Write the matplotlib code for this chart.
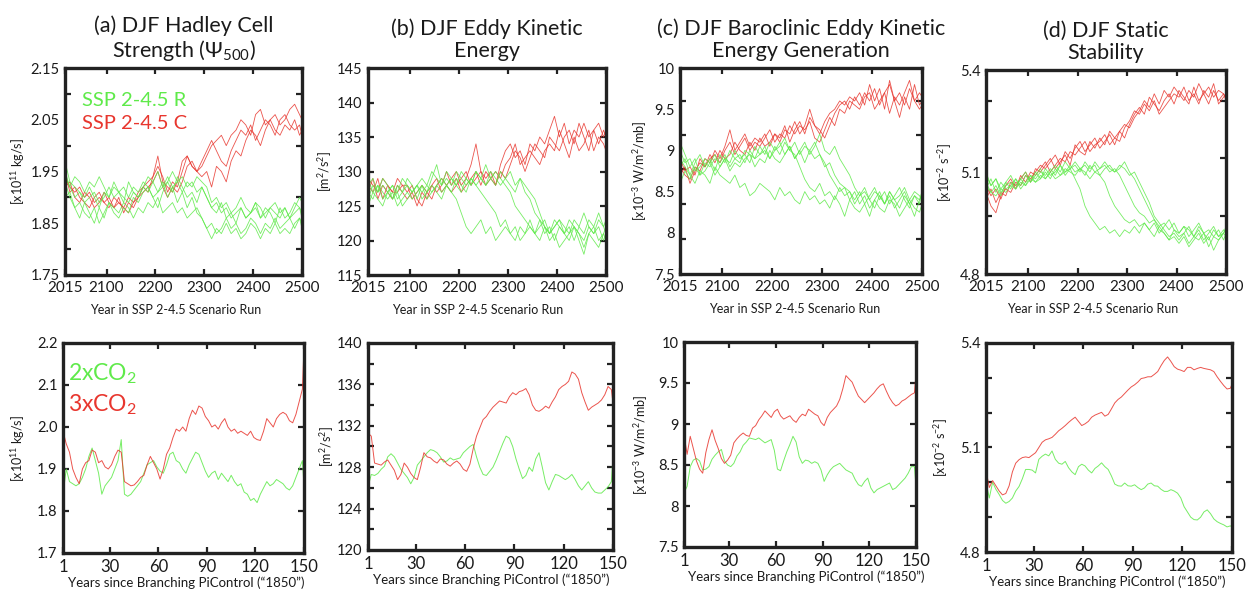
import numpy as np
import matplotlib
matplotlib.use("Agg")
import matplotlib.pyplot as plt

# ---------------------------------------------------------------- data
YEARS_TOP = list(range(2015, 2500, 10)) + [2500]
YEARS_BOTTOM = list(range(1, 150, 2)) + [150]

# (a) Hadley cell strength, SSP2-4.5 C (red) and R (green) runs
HADLEY_C_RUNS = [
    [1.94, 1.92, 1.91, 1.92, 1.90, 1.91, 1.89, 1.90, 1.89, 1.90,
     1.88, 1.89, 1.88, 1.90, 1.89, 1.91, 1.92, 1.93, 1.94, 1.98,
     1.93, 1.92, 1.91, 1.93, 1.97, 1.98, 1.96, 1.95, 1.96, 1.98,
     2.00, 2.01, 2.02, 2.00, 2.02, 2.03, 2.05, 2.04, 2.02, 2.06,
     2.07, 2.04, 2.05, 2.06, 2.04, 2.05, 2.07, 2.08, 2.06, 2.05],
    [1.92, 1.93, 1.90, 1.89, 1.91, 1.90, 1.88, 1.89, 1.91, 1.89,
     1.88, 1.90, 1.87, 1.89, 1.88, 1.90, 1.91, 1.92, 1.93, 1.95,
     1.92, 1.90, 1.92, 1.91, 1.93, 1.96, 1.97, 1.95, 1.94, 1.95,
     1.92, 1.96, 1.95, 1.93, 1.97, 1.99, 1.98, 2.01, 2.03, 2.02,
     2.00, 2.03, 2.05, 2.03, 2.02, 2.04, 2.03, 2.05, 2.02, 2.03],
    [1.95, 1.91, 1.92, 1.90, 1.89, 1.88, 1.90, 1.91, 1.89, 1.88,
     1.90, 1.89, 1.88, 1.87, 1.89, 1.90, 1.92, 1.91, 1.94, 1.96,
     1.94, 1.91, 1.93, 1.92, 1.95, 1.98, 1.96, 1.95, 1.97, 1.99,
     2.01, 1.99, 1.97, 1.96, 1.99, 2.01, 2.03, 2.02, 2.04, 2.01,
     2.03, 2.05, 2.04, 2.02, 2.05, 2.06, 2.04, 2.03, 2.04, 2.02],
]
HADLEY_R_RUNS = [
    [1.97, 1.93, 1.92, 1.91, 1.90, 1.92, 1.90, 1.88, 1.91, 1.90,
     1.92, 1.91, 1.89, 1.93, 1.91, 1.90, 1.92, 1.94, 1.93, 1.95,
     1.92, 1.93, 1.91, 1.94, 1.92, 1.90, 1.91, 1.89, 1.92, 1.90,
     1.88, 1.87, 1.89, 1.86, 1.87, 1.85, 1.88, 1.86, 1.87, 1.89,
     1.86, 1.88, 1.87, 1.85, 1.88, 1.86, 1.87, 1.89, 1.88, 1.87],
    [1.93, 1.90, 1.88, 1.86, 1.89, 1.87, 1.85, 1.88, 1.86, 1.89,
     1.87, 1.86, 1.88, 1.87, 1.90, 1.89, 1.91, 1.92, 1.90, 1.91,
     1.93, 1.90, 1.92, 1.89, 1.91, 1.88, 1.90, 1.87, 1.86, 1.84,
     1.85, 1.83, 1.84, 1.86, 1.84, 1.85, 1.83, 1.84, 1.86, 1.85,
     1.83, 1.85, 1.84, 1.86, 1.84, 1.85, 1.86, 1.84, 1.86, 1.85],
    [1.95, 1.92, 1.94, 1.93, 1.91, 1.93, 1.92, 1.94, 1.92, 1.90,
     1.93, 1.91, 1.92, 1.90, 1.92, 1.91, 1.93, 1.92, 1.90, 1.88,
     1.91, 1.93, 1.95, 1.93, 1.94, 1.92, 1.93, 1.91, 1.92, 1.90,
     1.88, 1.89, 1.87, 1.88, 1.86, 1.87, 1.88, 1.86, 1.87, 1.88,
     1.86, 1.87, 1.88, 1.87, 1.86, 1.88, 1.86, 1.87, 1.88, 1.86],
    [1.90, 1.91, 1.88, 1.89, 1.87, 1.86, 1.88, 1.85, 1.87, 1.89,
     1.88, 1.87, 1.89, 1.88, 1.86, 1.88, 1.87, 1.89, 1.88, 1.90,
     1.87, 1.88, 1.89, 1.87, 1.88, 1.86, 1.87, 1.88, 1.86, 1.84,
     1.82, 1.84, 1.83, 1.85, 1.83, 1.84, 1.82, 1.83, 1.85, 1.84,
     1.82, 1.84, 1.83, 1.85, 1.83, 1.84, 1.83, 1.85, 1.86, 1.84],
    [1.94, 1.92, 1.90, 1.91, 1.89, 1.90, 1.91, 1.89, 1.90, 1.92,
     1.90, 1.91, 1.90, 1.89, 1.91, 1.90, 1.92, 1.91, 1.93, 1.91,
     1.92, 1.94, 1.92, 1.93, 1.91, 1.93, 1.92, 1.94, 1.93, 1.92,
     1.89, 1.90, 1.88, 1.89, 1.87, 1.88, 1.90, 1.88, 1.87, 1.89,
     1.88, 1.86, 1.88, 1.89, 1.87, 1.88, 1.86, 1.88, 1.90, 1.89],
]

# (b) eddy kinetic energy
EKE_C_RUNS = [
    [128, 127, 129, 126, 128, 127, 129, 128, 127, 128,
     126, 125, 127, 128, 129, 127, 128, 129, 130, 128,
     129, 131, 134, 130, 129, 130, 128, 131, 133, 134,
     132, 133, 131, 134, 133, 135, 134, 136, 138, 135,
     137, 134, 136, 135, 137, 135, 136, 137, 135, 136],
    [127, 129, 126, 128, 127, 126, 128, 127, 126, 127,
     125, 127, 126, 128, 127, 128, 130, 128, 129, 127,
     128, 129, 130, 128, 130, 129, 130, 129, 131, 132,
     134, 131, 132, 133, 132, 131, 133, 134, 133, 136,
     134, 132, 135, 133, 134, 136, 133, 135, 134, 133],
    [129, 128, 127, 129, 128, 127, 127, 128, 128, 126,
     127, 128, 127, 126, 128, 129, 128, 127, 128, 129,
     130, 128, 129, 130, 128, 129, 128, 130, 129, 131,
     133, 132, 130, 132, 134, 133, 132, 135, 134, 133,
     135, 136, 134, 137, 135, 133, 136, 134, 136, 135],
]
EKE_R_RUNS = [
    [127, 126, 128, 127, 126, 127, 125, 126, 127, 126,
     127, 128, 126, 127, 128, 127, 128, 127, 126, 124,
     122, 121, 122, 123, 121, 122, 120, 121, 122, 121,
     120, 122, 121, 123, 121, 120, 122, 121, 123, 122,
     121, 120, 122, 121, 119, 121, 122, 120, 121, 122],
    [128, 129, 127, 128, 127, 128, 127, 129, 128, 127,
     128, 129, 128, 130, 129, 128, 129, 128, 130, 129,
     128, 129, 128, 127, 126, 125, 124, 122, 123, 121,
     122, 120, 121, 122, 121, 123, 121, 122, 120, 122,
     121, 123, 122, 121, 120, 122, 121, 122, 120, 121],
    [126, 128, 127, 129, 128, 126, 128, 127, 129, 128,
     126, 128, 127, 129, 131, 128, 130, 129, 128, 130,
     129, 128, 130, 129, 131, 129, 130, 129, 128, 127,
     125, 124, 123, 122, 121, 122, 123, 121, 122, 123,
     122, 121, 123, 122, 124, 122, 121, 123, 122, 121],
    [129, 127, 128, 126, 127, 128, 126, 127, 128, 127,
     128, 127, 128, 127, 128, 129, 128, 129, 128, 127,
     129, 128, 130, 129, 128, 129, 128, 130, 129, 130,
     128, 129, 127, 126, 124, 123, 122, 121, 122, 123,
     121, 122, 120, 122, 121, 123, 122, 124, 122, 123],
    [125, 127, 126, 125, 127, 126, 127, 125, 126, 127,
     128, 126, 127, 128, 127, 126, 128, 127, 129, 128,
     127, 129, 128, 129, 128, 130, 129, 128, 129, 128,
     127, 129, 128, 127, 126, 124, 122, 120, 121, 119,
     120, 121, 122, 120, 118, 121, 120, 119, 121, 120],
]

# (c) baroclinic eddy kinetic energy generation
BAROC_C_RUNS = [
    [8.80, 8.70, 8.65, 8.80, 8.75, 8.90, 8.85, 9.00, 8.90, 9.05,
     9.25, 9.00, 9.10, 9.20, 9.05, 9.15, 9.10, 9.20, 9.05, 9.20,
     9.15, 9.30, 9.10, 9.25, 9.35, 9.20, 9.40, 9.30, 9.20, 9.35,
     9.45, 9.50, 9.60, 9.55, 9.65, 9.60, 9.70, 9.55, 9.80, 9.60,
     9.75, 9.50, 9.85, 9.60, 9.70, 9.55, 9.75, 9.60, 9.70, 9.65],
    [8.90, 8.75, 8.80, 8.70, 8.90, 8.80, 8.95, 8.85, 9.00, 8.90,
     8.95, 9.10, 9.00, 8.95, 9.10, 9.00, 9.15, 9.05, 9.10, 9.20,
     9.10, 9.25, 9.20, 9.35, 9.20, 9.30, 9.50, 9.30, 9.25, 9.15,
     9.30, 9.45, 9.55, 9.60, 9.50, 9.65, 9.55, 9.70, 9.60, 9.75,
     9.55, 9.70, 9.80, 9.60, 9.40, 9.65, 9.50, 9.80, 9.55, 9.60],
    [8.70, 8.80, 8.60, 8.75, 8.85, 8.80, 8.90, 8.95, 8.85, 9.00,
     9.10, 8.95, 9.05, 9.15, 9.00, 9.10, 9.05, 9.15, 9.25, 9.10,
     9.20, 9.15, 9.30, 9.20, 9.30, 9.25, 9.35, 9.15, 9.10, 9.25,
     9.40, 9.30, 9.50, 9.45, 9.60, 9.55, 9.50, 9.65, 9.70, 9.50,
     9.60, 9.70, 9.45, 9.65, 9.55, 9.70, 9.85, 9.60, 9.50, 9.55],
]
BAROC_R_RUNS = [
    [8.90, 8.80, 8.70, 8.60, 8.75, 8.70, 8.60, 8.80, 8.70, 8.65,
     8.60, 8.70, 8.55, 8.60, 8.45, 8.50, 8.60, 8.55, 8.50, 8.40,
     8.55, 8.45, 8.50, 8.40, 8.35, 8.50, 8.40, 8.45, 8.35, 8.40,
     8.30, 8.45, 8.35, 8.20, 8.40, 8.30, 8.25, 8.35, 8.20, 8.40,
     8.30, 8.25, 8.40, 8.35, 8.20, 8.30, 8.40, 8.30, 8.25, 8.35],
    [9.00, 8.85, 8.90, 8.75, 8.80, 8.90, 8.85, 8.95, 8.80, 8.90,
     8.85, 9.00, 8.90, 8.95, 8.85, 9.05, 8.95, 9.00, 8.90, 9.05,
     8.95, 9.10, 9.00, 8.95, 8.80, 8.65, 8.55, 8.50, 8.60, 8.45,
     8.50, 8.40, 8.55, 8.45, 8.50, 8.35, 8.45, 8.55, 8.40, 8.50,
     8.45, 8.35, 8.50, 8.40, 8.45, 8.55, 8.40, 8.50, 8.45, 8.40],
    [8.80, 8.90, 8.70, 8.85, 8.95, 8.80, 8.90, 8.75, 8.95, 8.85,
     9.00, 8.90, 8.85, 9.00, 8.95, 8.90, 9.05, 8.95, 9.10, 9.00,
     9.05, 9.15, 9.00, 9.10, 8.95, 9.05, 9.00, 9.10, 8.95, 8.85,
     8.70, 8.60, 8.50, 8.55, 8.40, 8.50, 8.35, 8.45, 8.30, 8.40,
     8.50, 8.35, 8.45, 8.30, 8.40, 8.50, 8.35, 8.45, 8.40, 8.50],
    [9.10, 8.95, 8.80, 8.90, 8.70, 8.85, 8.80, 8.90, 8.85, 8.95,
     8.80, 8.90, 8.95, 8.85, 9.00, 8.90, 8.95, 9.05, 8.90, 9.00,
     9.10, 8.95, 9.05, 8.90, 9.00, 9.10, 8.95, 9.05, 9.20, 9.00,
     8.95, 9.05, 8.90, 8.80, 8.70, 8.55, 8.45, 8.50, 8.40, 8.30,
     8.45, 8.35, 8.50, 8.40, 8.30, 8.45, 8.35, 8.20, 8.40, 8.45],
    [8.60, 8.75, 8.65, 8.80, 8.70, 8.75, 8.85, 8.70, 8.80, 8.90,
     8.75, 8.85, 8.80, 8.90, 8.95, 8.80, 8.90, 8.85, 9.00, 8.90,
     8.85, 8.95, 9.05, 8.90, 9.00, 8.85, 9.00, 8.90, 8.95, 8.80,
     8.85, 8.70, 8.60, 8.55, 8.50, 8.40, 8.50, 8.35, 8.45, 8.55,
     8.40, 8.50, 8.35, 8.45, 8.55, 8.40, 8.30, 8.45, 8.35, 8.50],
]

# (d) static stability
STAB_C_RUNS = [
    [5.04, 5.00, 4.98, 5.03, 5.05, 5.04, 5.07, 5.06, 5.09, 5.08,
     5.10, 5.12, 5.11, 5.13, 5.15, 5.12, 5.16, 5.14, 5.17, 5.19,
     5.16, 5.18, 5.20, 5.17, 5.19, 5.21, 5.18, 5.22, 5.24, 5.23,
     5.26, 5.28, 5.31, 5.29, 5.33, 5.30, 5.34, 5.32, 5.35, 5.33,
     5.31, 5.34, 5.32, 5.36, 5.33, 5.35, 5.32, 5.34, 5.33, 5.32],
    [5.06, 5.03, 5.05, 5.02, 5.06, 5.08, 5.05, 5.09, 5.07, 5.10,
     5.09, 5.11, 5.13, 5.10, 5.12, 5.14, 5.13, 5.16, 5.15, 5.17,
     5.19, 5.16, 5.18, 5.19, 5.21, 5.18, 5.20, 5.22, 5.20, 5.24,
     5.27, 5.29, 5.27, 5.32, 5.30, 5.28, 5.31, 5.33, 5.30, 5.34,
     5.32, 5.30, 5.35, 5.31, 5.33, 5.30, 5.34, 5.31, 5.33, 5.31],
    [5.02, 5.05, 5.01, 5.04, 5.03, 5.07, 5.06, 5.08, 5.10, 5.07,
     5.11, 5.10, 5.12, 5.14, 5.11, 5.13, 5.15, 5.12, 5.18, 5.16,
     5.15, 5.19, 5.17, 5.20, 5.18, 5.22, 5.20, 5.19, 5.23, 5.25,
     5.28, 5.27, 5.30, 5.28, 5.31, 5.27, 5.29, 5.31, 5.33, 5.32,
     5.35, 5.31, 5.33, 5.30, 5.34, 5.32, 5.36, 5.30, 5.32, 5.33],
]
STAB_R_RUNS = [
    [5.07, 5.04, 5.06, 5.03, 5.07, 5.05, 5.08, 5.06, 5.09, 5.07,
     5.10, 5.08, 5.11, 5.09, 5.10, 5.12, 5.09, 5.11, 5.08, 5.05,
     5.00, 4.97, 4.95, 4.93, 4.94, 4.92, 4.93, 4.91, 4.93, 4.92,
     4.94, 4.92, 4.95, 4.93, 4.91, 4.94, 4.92, 4.90, 4.93, 4.91,
     4.92, 4.94, 4.91, 4.93, 4.90, 4.92, 4.94, 4.91, 4.93, 4.92],
    [5.09, 5.06, 5.08, 5.05, 5.07, 5.09, 5.06, 5.08, 5.10, 5.07,
     5.09, 5.11, 5.08, 5.10, 5.12, 5.10, 5.13, 5.11, 5.12, 5.10,
     5.13, 5.11, 5.12, 5.09, 5.07, 5.03, 5.00, 4.98, 4.96, 4.95,
     4.96, 4.94, 4.95, 4.93, 4.95, 4.92, 4.94, 4.96, 4.93, 4.92,
     4.94, 4.91, 4.93, 4.95, 4.92, 4.90, 4.93, 4.91, 4.92, 4.94],
    [5.05, 5.08, 5.04, 5.07, 5.05, 5.06, 5.08, 5.05, 5.07, 5.09,
     5.08, 5.10, 5.09, 5.11, 5.09, 5.12, 5.10, 5.11, 5.13, 5.11,
     5.12, 5.10, 5.13, 5.11, 5.12, 5.10, 5.11, 5.09, 5.06, 5.03,
     5.00, 4.98, 4.97, 4.95, 4.96, 4.94, 4.95, 4.93, 4.95, 4.92,
     4.94, 4.93, 4.91, 4.94, 4.92, 4.93, 4.91, 4.93, 4.90, 4.92],
    [5.10, 5.06, 5.08, 5.04, 5.06, 5.07, 5.05, 5.08, 5.06, 5.09,
     5.07, 5.08, 5.10, 5.08, 5.11, 5.09, 5.10, 5.12, 5.10, 5.11,
     5.09, 5.12, 5.10, 5.11, 5.13, 5.11, 5.10, 5.12, 5.11, 5.09,
     5.10, 5.07, 5.04, 5.01, 4.97, 4.95, 4.93, 4.91, 4.92, 4.90,
     4.92, 4.89, 4.91, 4.90, 4.92, 4.88, 4.91, 4.90, 4.92, 4.91],
    [5.06, 5.04, 5.03, 5.05, 5.04, 5.06, 5.05, 5.07, 5.06, 5.08,
     5.07, 5.09, 5.08, 5.10, 5.08, 5.09, 5.11, 5.10, 5.09, 5.11,
     5.10, 5.08, 5.10, 5.09, 5.11, 5.12, 5.10, 5.11, 5.13, 5.10,
     5.08, 5.05, 5.02, 4.99, 4.96, 4.93, 4.92, 4.90, 4.91, 4.89,
     4.91, 4.88, 4.90, 4.92, 4.89, 4.91, 4.87, 4.90, 4.92, 4.93],
]

# bottom row: abrupt 2xCO2 (green) and 3xCO2 (red) runs
HADLEY_2X = [1.84, 1.90, 1.87, 1.865, 1.86, 1.865, 1.88, 1.90, 1.93, 1.95,
             1.92, 1.89, 1.84, 1.86, 1.87, 1.88, 1.90, 1.92, 1.97, 1.84,
             1.835, 1.84, 1.85, 1.86, 1.87, 1.89, 1.91, 1.915, 1.92, 1.905,
             1.895, 1.89, 1.91, 1.935, 1.94, 1.92, 1.915, 1.90, 1.89, 1.91,
             1.925, 1.94, 1.935, 1.915, 1.895, 1.88, 1.89, 1.895, 1.875, 1.89,
             1.88, 1.87, 1.885, 1.87, 1.86, 1.865, 1.845, 1.84, 1.825, 1.83,
             1.82, 1.84, 1.855, 1.87, 1.86, 1.865, 1.875, 1.87, 1.865, 1.855,
             1.85, 1.86, 1.88, 1.90, 1.92, 1.86]
HADLEY_3X = [1.99, 1.96, 1.94, 1.90, 1.88, 1.865, 1.90, 1.915, 1.92, 1.945,
             1.94, 1.915, 1.92, 1.905, 1.90, 1.91, 1.93, 1.945, 1.94, 1.87,
             1.865, 1.86, 1.862, 1.87, 1.88, 1.885, 1.91, 1.93, 1.915, 1.90,
             1.876, 1.90, 1.935, 1.95, 1.975, 1.995, 1.99, 2.00, 1.99, 2.02,
             2.04, 2.03, 2.05, 2.045, 2.025, 2.015, 2.00, 2.005, 1.995, 2.01,
             2.02, 2.00, 1.99, 1.995, 1.985, 1.99, 1.985, 1.98, 1.99, 1.975,
             1.97, 1.968, 1.99, 2.02, 2.01, 2.00, 2.02, 2.03, 2.035, 2.03,
             2.015, 2.01, 2.03, 2.06, 2.09, 2.19]

EKE_2X = [126.1, 127.3, 127.2, 127.4, 127.8, 128.1, 129.0, 129.3, 129.0, 128.4,
          127.8, 127.4, 127.0, 126.4, 127.0, 128.2, 128.6, 129.0, 129.4, 129.7,
          129.6, 129.4, 129.0, 128.5, 128.6, 128.9, 128.7, 128.8, 128.9, 129.4,
          129.7, 130.0, 130.2, 129.0, 128.0, 127.3, 127.2, 127.6, 128.0, 128.7,
          129.5, 130.3, 131.0, 130.8, 130.0, 128.8, 127.8, 126.9, 127.2, 128.0,
          127.6, 128.8, 129.4, 128.0, 126.5, 125.8, 126.6, 127.3, 127.2, 127.0,
          126.8, 127.0, 127.3, 126.8, 126.2, 125.8, 126.2, 126.6, 126.0, 125.6,
          125.5, 125.5, 125.8, 126.1, 126.6, 129.0]
EKE_3X = [131.3, 131.0, 128.4, 128.3, 128.2, 128.5, 128.7, 128.2, 127.7, 126.8,
          127.3, 128.4, 128.0, 127.4, 127.0, 126.8, 128.0, 129.4, 129.0, 128.9,
          128.6, 128.4, 128.8, 128.7, 128.3, 128.1, 128.4, 128.6, 128.3, 127.8,
          127.6, 128.3, 129.8, 131.0, 131.8, 132.6, 132.9, 133.4, 133.8, 134.1,
          134.4, 134.3, 134.2, 134.8, 135.2, 135.0, 135.3, 135.4, 135.6, 135.0,
          134.0, 133.5, 133.4, 133.6, 133.9, 133.7, 134.3, 134.8, 135.5, 135.8,
          136.0, 136.3, 137.2, 137.0, 136.5, 135.2, 134.3, 133.5, 133.8, 134.0,
          134.2, 134.5, 135.0, 135.8, 135.5, 134.2]

BAROC_2X = [8.16, 8.24, 8.48, 8.56, 8.58, 8.55, 8.44, 8.45, 8.48, 8.57,
            8.62, 8.66, 8.69, 8.55, 8.50, 8.48, 8.52, 8.61, 8.66, 8.74,
            8.78, 8.83, 8.82, 8.81, 8.83, 8.80, 8.77, 8.79, 8.81, 8.68,
            8.45, 8.43, 8.55, 8.66, 8.75, 8.85, 8.78, 8.60, 8.52, 8.56,
            8.55, 8.52, 8.54, 8.52, 8.44, 8.30, 8.38, 8.44, 8.48, 8.50,
            8.52, 8.48, 8.44, 8.42, 8.40, 8.32, 8.26, 8.24, 8.30, 8.34,
            8.22, 8.16, 8.20, 8.22, 8.24, 8.26, 8.28, 8.20, 8.22, 8.26,
            8.30, 8.34, 8.40, 8.48, 8.48, 8.24]
BAROC_3X = [8.87, 8.63, 8.85, 8.70, 8.55, 8.45, 8.40, 8.65, 8.81, 8.93,
            8.80, 8.70, 8.58, 8.52, 8.56, 8.62, 8.77, 8.82, 8.86, 8.89,
            8.86, 8.85, 8.95, 8.98, 9.05, 9.10, 9.16, 9.12, 9.08, 9.15,
            9.18, 9.10, 9.06, 9.08, 9.10, 9.05, 9.02, 9.08, 9.12, 9.10,
            9.18, 9.15, 9.12, 9.10, 9.02, 8.98, 9.08, 9.14, 9.18, 9.22,
            9.30, 9.43, 9.59, 9.55, 9.51, 9.42, 9.34, 9.30, 9.26, 9.30,
            9.34, 9.38, 9.43, 9.47, 9.49, 9.40, 9.32, 9.26, 9.22, 9.24,
            9.28, 9.30, 9.33, 9.36, 9.38, 9.61]

STAB_2X = [5.00, 4.955, 5.00, 4.98, 4.965, 4.948, 4.94, 4.945, 4.955, 4.975,
           4.988, 5.01, 5.037, 5.037, 5.035, 5.027, 5.066, 5.075, 5.081, 5.076,
           5.09, 5.066, 5.055, 5.052, 5.06, 5.042, 5.03, 5.022, 5.045, 5.052,
           5.047, 5.035, 5.027, 5.04, 5.047, 5.056, 5.045, 5.037, 5.018, 4.995,
           4.99, 4.989, 4.998, 4.99, 4.989, 4.993, 4.985, 4.979, 4.984, 4.995,
           4.998, 4.99, 4.989, 4.98, 4.974, 4.974, 4.979, 4.975, 4.969, 4.955,
           4.93, 4.915, 4.90, 4.893, 4.892, 4.90, 4.915, 4.921, 4.91, 4.895,
           4.887, 4.882, 4.878, 4.872, 4.875, 4.872]
STAB_3X = [5.035, 4.985, 5.005, 4.99, 4.975, 4.964, 4.968, 4.99, 5.03, 5.055,
           5.065, 5.071, 5.073, 5.071, 5.078, 5.085, 5.10, 5.115, 5.122, 5.125,
           5.129, 5.138, 5.148, 5.155, 5.163, 5.172, 5.18, 5.187, 5.175, 5.163,
           5.168, 5.175, 5.187, 5.193, 5.197, 5.201, 5.19, 5.195, 5.211, 5.228,
           5.238, 5.245, 5.255, 5.265, 5.274, 5.28, 5.288, 5.298, 5.30, 5.303,
           5.303, 5.31, 5.318, 5.335, 5.35, 5.36, 5.347, 5.332, 5.325, 5.322,
           5.318, 5.33, 5.33, 5.323, 5.327, 5.33, 5.327, 5.325, 5.323, 5.318,
           5.303, 5.29, 5.278, 5.268, 5.27, 5.282]

# text / ticks
TITLES = ["(a) DJF Hadley Cell\nStrength ($\\Psi_{500}$)",
          "(b) DJF Eddy Kinetic\nEnergy",
          "(c) DJF Baroclinic Eddy Kinetic\nEnergy Generation",
          "(d) DJF Static\nStability"]
YLABELS = ["[x10$^{11}$ kg/s]", "[m$^{2}$/s$^{2}$]",
           "[x10$^{-3}$ W/m$^{2}$/mb]", "[x10$^{-2}$ s$^{-2}$]"]
TOP_XTICKS = [2015, 2100, 2200, 2300, 2400, 2500]
BOTTOM_XTICKS = [1, 30, 60, 90, 120, 150]
TOP_XLABEL = "Year in SSP 2-4.5 Scenario Run"
BOTTOM_XLABEL = "Years since Branching PiControl (\u201c1850\u201d)"
LEGEND_TOP = ["SSP 2-4.5 R", "SSP 2-4.5 C"]
LEGEND_BOTTOM = ["2xCO$_2$", "3xCO$_2$"]

TOP_YLIM = [(1.75, 2.15), (115, 145), (7.5, 10), (4.8, 5.4)]
TOP_YMARKS = [[1.8, 1.9, 2.0, 2.1], [120, 125, 130, 135, 140],
              [7.93, 8.35, 8.77, 9.19, 9.60], [4.97, 5.14, 5.31]]
TOP_YLABVALS = [[1.75, 1.85, 1.95, 2.05, 2.15], [115, 120, 125, 130, 135, 140, 145],
                [7.5, 8, 8.5, 9, 9.5, 10], [4.8, 5.1, 5.4]]
TOP_YLABTXT = [["1.75", "1.85", "1.95", "2.05", "2.15"],
               ["115", "120", "125", "130", "135", "140", "145"],
               ["7.5", "8", "8.5", "9", "9.5", "10"], ["4.8", "5.1", "5.4"]]

BOT_YLIM = [(1.7, 2.2), (120, 140), (7.5, 10), (4.8, 5.4)]
BOT_YMARKS = [[1.8, 1.9, 2.0, 2.1], [122, 124, 126, 128, 130, 132, 134, 136, 138],
              [8, 8.5, 9, 9.5], [4.9, 5.0, 5.1, 5.2, 5.3]]
BOT_YLABVALS = [[1.7, 1.8, 1.9, 2.0, 2.1, 2.2], [120, 124, 128, 132, 136, 140],
                [7.5, 8, 8.5, 9, 9.5, 10], [4.8, 5.1, 5.4]]
BOT_YLABTXT = [["1.7", "1.8", "1.9", "2.0", "2.1", "2.2"],
               ["120", "124", "128", "132", "136", "140"],
               ["7.5", "8", "8.5", "9", "9.5", "10"], ["4.8", "5.1", "5.4"]]

# ---------------------------------------------------------------- style
FONT = "Lato"
plt.rcParams["font.family"] = [FONT, "DejaVu Sans"]
plt.rcParams["mathtext.fontset"] = "custom"
plt.rcParams["mathtext.rm"] = FONT
plt.rcParams["mathtext.it"] = FONT + ":italic"
plt.rcParams["mathtext.bf"] = FONT + ":bold"
plt.rcParams["mathtext.sf"] = FONT

GREEN = "#5FEA4A"
RED = "#E8362E"
TXT = "#1a1a1a"

W, H = 1248, 593
fig = plt.figure(figsize=(W / 100, H / 100), dpi=100)


def px_axes(l, t, r, b):
    return fig.add_axes([l / W, 1 - b / H, (r - l) / W, (b - t) / H])


TOP_BOXES = [(65, 68, 302, 275), (368, 68, 606, 275), (680, 68, 922, 274), (986, 70, 1226, 274)]
BOT_BOXES = [(63, 343, 304, 553), (368, 343, 613, 550), (684, 342, 916, 547), (986, 343, 1232, 552)]
TOP_YLAB_X = [-0.200, -0.180, -0.167, -0.172]
BOT_YLAB_X = [-0.188, -0.168, -0.186, -0.184]
TOP_XLAB_X = [0.465, 0.46, 0.475, 0.445]
BOT_XLAB_X = [0.512, 0.502, 0.526, 0.494]


def style_axes(ax, xticks, xfs, ylim, marks, labvals, labtxt, ylabel, ylab_x):
    ax.set_xlim(xticks[0], xticks[-1])
    ax.set_ylim(*ylim)
    ax.set_xticks(xticks)
    ax.set_xticklabels([str(v) for v in xticks], fontsize=xfs, color=TXT)
    # tick marks (major, unlabeled) and tick labels (minor, no mark)
    ax.yaxis.remove_overlapping_locs = False
    ax.set_yticks(marks)
    ax.set_yticklabels([])
    ax.set_yticks(labvals, minor=True)
    ax.set_yticklabels(labtxt, minor=True, fontsize=10.5, color=TXT)
    ax.tick_params(axis="y", which="minor", length=0, pad=4)
    ax.tick_params(axis="both", which="major", direction="in", length=4, width=1.6,
                   top=True, right=True, color="#222222", pad=4.5)
    for sp in ax.spines.values():
        sp.set_linewidth(2.4)
        sp.set_color("#222222")
    ax.set_ylabel(ylabel, fontsize=9, color=TXT, va="center")
    ax.yaxis.set_label_coords(ylab_x, 0.5)


for i in range(4):
    # top row
    ax = px_axes(*TOP_BOXES[i])
    runs_c = [HADLEY_C_RUNS, EKE_C_RUNS, BAROC_C_RUNS, STAB_C_RUNS][i]
    runs_r = [HADLEY_R_RUNS, EKE_R_RUNS, BAROC_R_RUNS, STAB_R_RUNS][i]
    for run in runs_c:
        ax.plot(YEARS_TOP, run, color=RED, lw=0.6, alpha=0.85)
    for run in runs_r:
        ax.plot(YEARS_TOP, run, color=GREEN, lw=0.6, alpha=0.85)
    style_axes(ax, TOP_XTICKS, 11, TOP_YLIM[i], TOP_YMARKS[i], TOP_YLABVALS[i],
               TOP_YLABTXT[i], YLABELS[i], TOP_YLAB_X[i])
    ax.set_title(TITLES[i], fontsize=15.5, color=TXT, pad=8, linespacing=1.1)
    ax.set_xlabel(TOP_XLABEL, fontsize=9, color=TXT, va="center")
    ax.xaxis.set_label_coords(TOP_XLAB_X[i], -0.170)
    if i == 0:
        ax.text(0.072, 0.885, LEGEND_TOP[0], color=GREEN, fontsize=14.5,
                transform=ax.transAxes, va="top", ha="left")
        ax.text(0.072, 0.775, LEGEND_TOP[1], color=RED, fontsize=14.5,
                transform=ax.transAxes, va="top", ha="left")

    # bottom row
    ax = px_axes(*BOT_BOXES[i])
    y2 = [HADLEY_2X, EKE_2X, BAROC_2X, STAB_2X][i]
    y3 = [HADLEY_3X, EKE_3X, BAROC_3X, STAB_3X][i]
    ax.plot(YEARS_BOTTOM, y2, color=GREEN, lw=0.7, alpha=0.85)
    ax.plot(YEARS_BOTTOM, y3, color=RED, lw=0.7, alpha=0.85)
    style_axes(ax, BOTTOM_XTICKS, 12, BOT_YLIM[i], BOT_YMARKS[i], BOT_YLABVALS[i],
               BOT_YLABTXT[i], YLABELS[i], BOT_YLAB_X[i])
    ax.set_xlabel(BOTTOM_XLABEL, fontsize=9.5, color=TXT, va="center")
    ax.xaxis.set_label_coords(BOT_XLAB_X[i], -0.143)
    if i == 0:
        ax.text(0.02, 0.91, LEGEND_BOTTOM[0], color=GREEN, fontsize=16.5,
                transform=ax.transAxes, va="top", ha="left")
        ax.text(0.02, 0.765, LEGEND_BOTTOM[1], color=RED, fontsize=16.5,
                transform=ax.transAxes, va="top", ha="left")

fig.savefig("out.png", dpi=100)
